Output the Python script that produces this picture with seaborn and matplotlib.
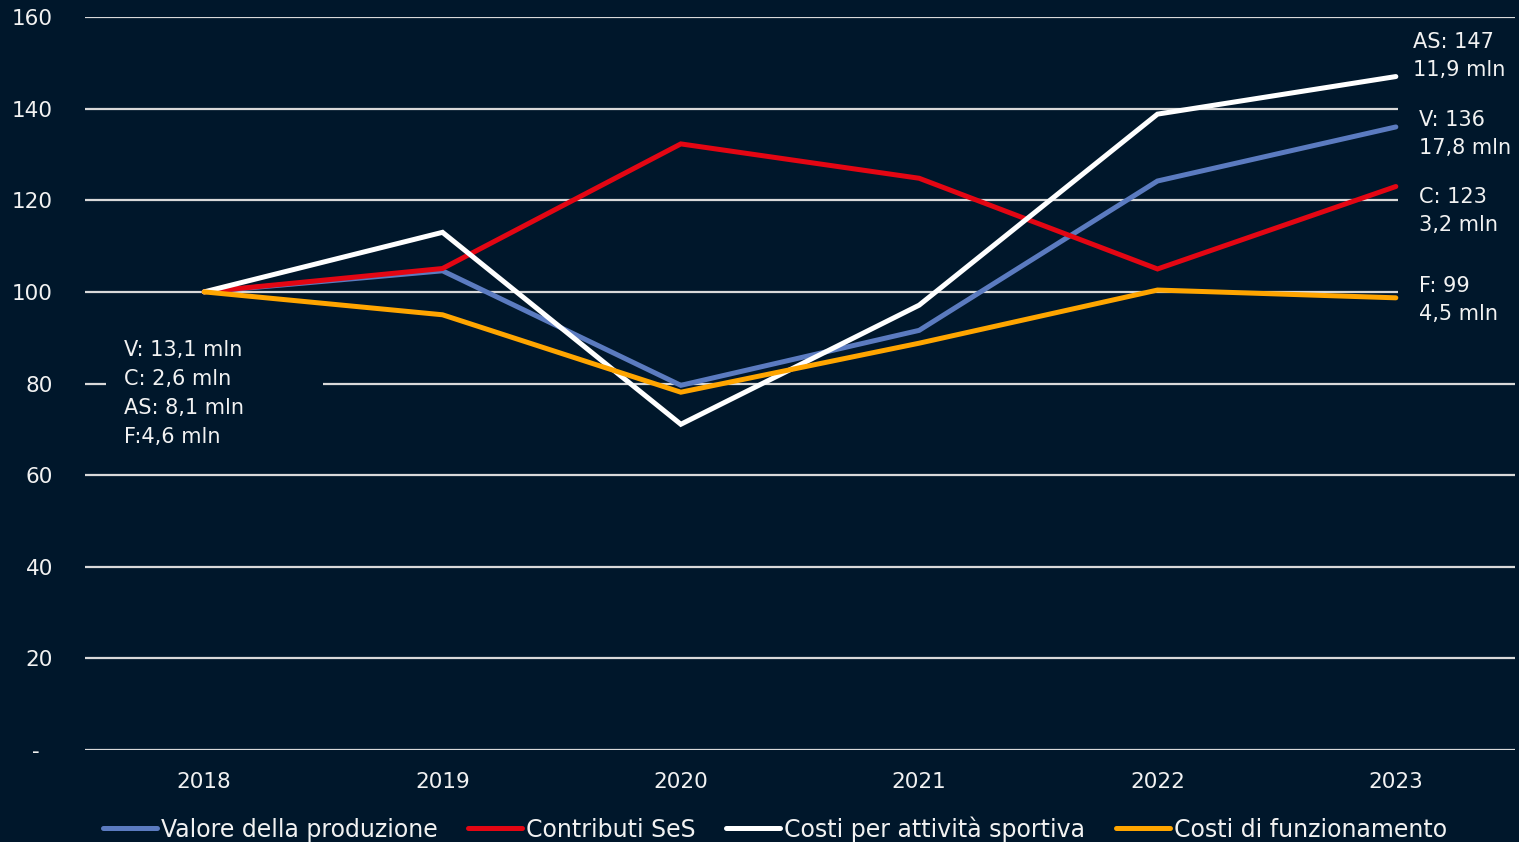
import matplotlib
matplotlib.use("Agg")
import matplotlib.pyplot as plt
from matplotlib.patches import Rectangle
from matplotlib.lines import Line2D
import seaborn as sns
import pandas as pd

# data (index 2018 = 100)
years = ["2018", "2019", "2020", "2021", "2022", "2023"]
valore = [100, 104.6, 79.6, 91.6, 124.2, 136]
contributi = [100, 105.1, 132.3, 124.8, 105.0, 123]
costi_sport = [100, 113.0, 71.1, 97.1, 138.8, 147]
costi_funz = [100, 95.0, 78.1, 88.8, 100.4, 98.7]

series_names = ["Valore della produzione", "Contributi SeS",
                "Costi per attività sportiva", "Costi di funzionamento"]
series_colors = ["#5B7BC0", "#E30613", "#FFFFFF", "#FFA500"]

start_note = "V: 13,1 mln\nC: 2,6 mln\nAS: 8,1 mln\nF:4,6 mln"
end_notes = ["AS: 147\n11,9 mln", "V: 136\n17,8 mln",
             "C: 123\n3,2 mln", "F: 99\n4,5 mln"]
end_offsets = [(1413, 56), (1419, 134), (1419, 211), (1419, 300)]

BG = "#00172B"
FG = "#F2F2F2"
GRID = "#D9D9D9"

df = pd.DataFrame({
    "year": years * 4,
    "value": valore + contributi + costi_sport + costi_funz,
    "serie": [n for n in series_names for _ in years],
})


def set_style():
    sns.set_theme(style="dark")
    plt.rcParams["font.family"] = ["DejaVu Sans"]
    plt.rcParams["figure.facecolor"] = BG
    plt.rcParams["axes.facecolor"] = BG
    plt.rcParams["text.color"] = FG
    plt.rcParams["xtick.color"] = FG
    plt.rcParams["ytick.color"] = FG


set_style()
fig = plt.figure(figsize=(15.19, 8.42), dpi=100)
ax = fig.add_axes([85 / 1519, 1 - 750 / 842, (1515 - 85) / 1519, (750 - 17) / 842])

sns.lineplot(data=df, x="year", y="value", hue="serie", hue_order=series_names,
             palette=series_colors, linewidth=3.6, ax=ax, legend=False,
             sort=False, zorder=4)
for ln in ax.lines:
    ln.set_solid_capstyle("round")
    ln.set_solid_joinstyle("miter")

ax.set_xlim(-0.5, 5.5)
ax.set_ylim(0, 160)
ax.set_yticks(range(0, 161, 20))
ax.set_yticklabels(["-  "] + [str(v) for v in range(20, 161, 20)])
ax.grid(False)
for v in range(0, 161, 20):
    ax.axhline(v, color=GRID, linewidth=1.6, zorder=1)
for s in ax.spines.values():
    s.set_visible(False)
ax.tick_params(axis="y", length=0, pad=23, labelsize=15.5)
ax.tick_params(axis="x", length=0, pad=16, labelsize=15.5)
ax.set_xlabel("")
ax.set_ylabel("")

# boxes hiding the gridlines behind the notes
ax.add_patch(Rectangle((-0.41, 75), 0.91, 10, facecolor=BG, edgecolor="none", zorder=2))
ax.add_patch(Rectangle((5.01, 93), 0.49, 52, facecolor=BG, edgecolor="none", zorder=2))

ax.text(-0.337, 77.8, start_note, fontsize=15, color=FG, va="center", ha="left",
        linespacing=1.55, zorder=5)

for label, (x0, y0) in zip(end_notes, end_offsets):
    fig.text(x0 / 1519, 1 - y0 / 842, label, fontsize=15, color=FG,
             va="center", ha="left", linespacing=1.55, zorder=5)

handles = [Line2D([0], [0], color=c, linewidth=3.6, solid_capstyle="round")
           for c in series_colors]
fig.legend(handles, series_names, loc="center", bbox_to_anchor=(0.51, 13 / 842),
           ncol=4, frameon=False, fontsize=17, handlelength=2.3,
           handletextpad=0.15, columnspacing=1.3, labelcolor=FG)

plt.savefig("out.png", dpi=100, facecolor=BG)
